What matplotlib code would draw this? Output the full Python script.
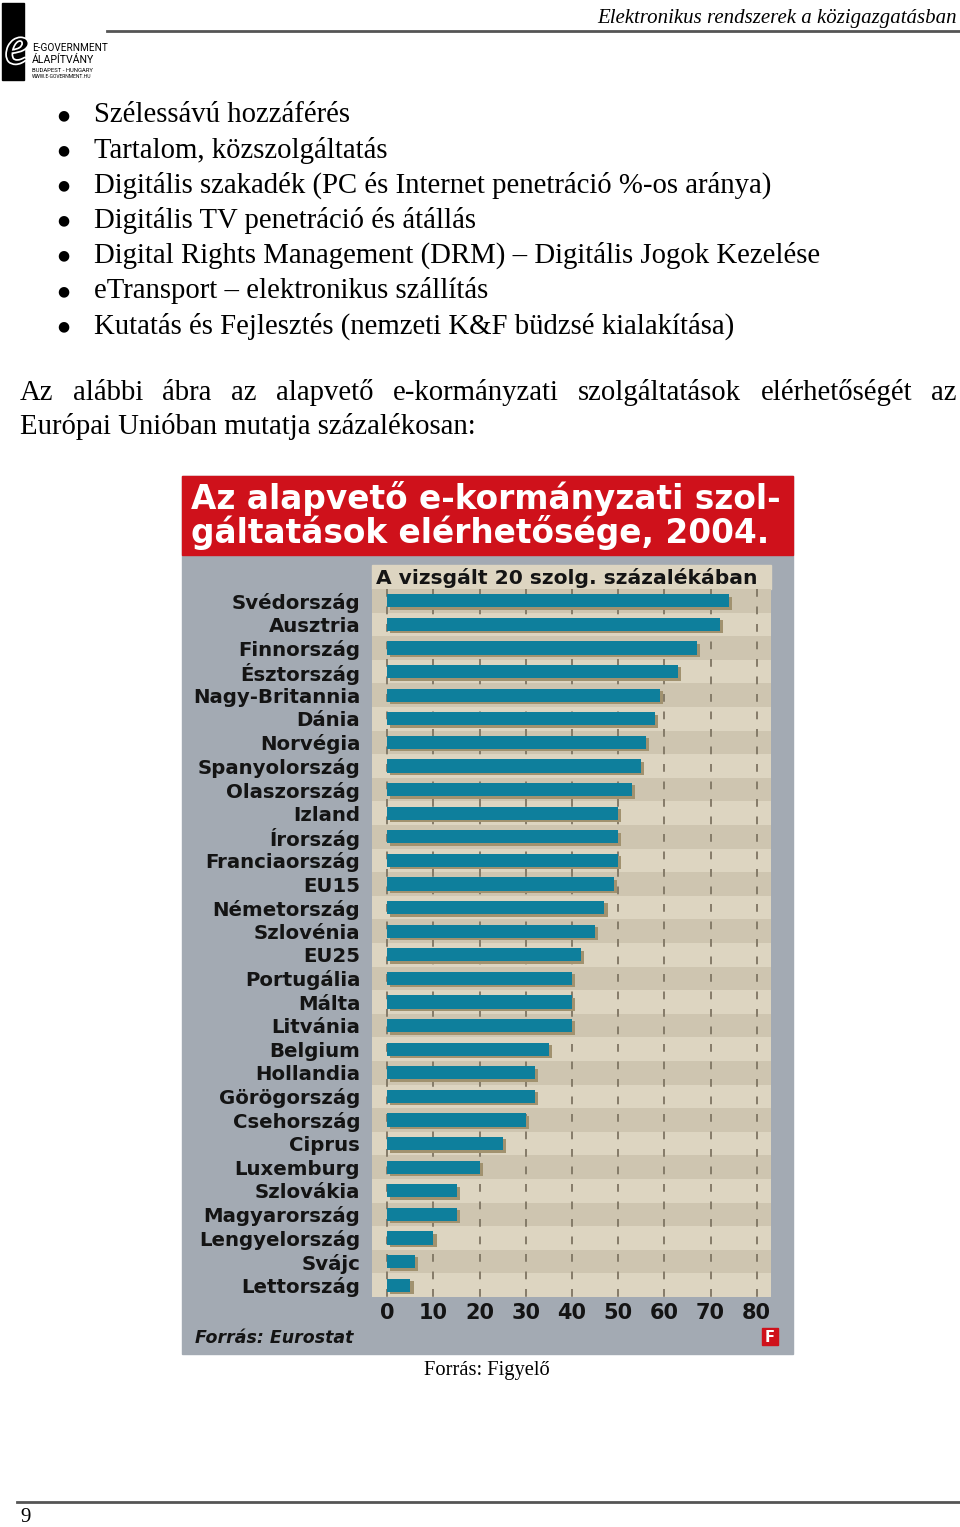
import matplotlib
matplotlib.use("Agg")
import matplotlib.pyplot as plt
import matplotlib.patheffects as pe
from matplotlib.patches import Rectangle

W, H = 960, 1527

# chart data (percent of the 20 examined services available online, 2004)
countries = ["Svédország", "Ausztria", "Finnország", "Észtország", "Nagy-Britannia",
             "Dánia", "Norvégia", "Spanyolország", "Olaszország", "Izland",
             "Írország", "Franciaország", "EU15", "Németország", "Szlovénia",
             "EU25", "Portugália", "Málta", "Litvánia", "Belgium",
             "Hollandia", "Görögország", "Csehország", "Ciprus", "Luxemburg",
             "Szlovákia", "Magyarország", "Lengyelország", "Svájc", "Lettország"]
values = [74, 72, 67, 63, 59, 58, 56, 55, 53, 50,
          50, 50, 49, 47, 45, 42, 40, 40, 40, 35,
          32, 32, 30, 25, 20, 15, 15, 10, 6, 5]
xticks = [0, 10, 20, 30, 40, 50, 60, 70, 80]

title_lines = ["Az alapvető e-kormányzati szol-", "gáltatások elérhetősége, 2004."]
subtitle = "A vizsgált 20 szolg. százalékában"

bullets = ["Szélessávú hozzáférés",
           "Tartalom, közszolgáltatás",
           "Digitális szakadék (PC és Internet penetráció %-os aránya)",
           "Digitális TV penetráció és átállás",
           "Digital Rights Management (DRM) \u2013 Digitális Jogok Kezelése",
           "eTransport \u2013 elektronikus szállítás",
           "Kutatás és Fejlesztés (nemzeti K&F büdzsé kialakítása)"]
para1 = "Az alábbi ábra az alapvető e-kormányzati szolgáltatások elérhetőségét az"
para2 = "Európai Unióban mutatja százalékosan:"

SERIF = ["Liberation Serif", "DejaVu Serif"]
SANS = ["Roboto", "DejaVu Sans"]
HEAVY = ["DejaVu Sans"]

RED = "#cf111b"
PANEL = "#a3aab3"
BEIGE_D = "#cec5b0"
BEIGE_L = "#ddd5c1"
BAR = "#0e7f9c"
SHADOW = "#a1926f"
INK = "#141414"


def px(x0, y0, x1, y1):
    return [x0 / W, 1 - y1 / H, (x1 - x0) / W, (y1 - y0) / H]


fig = plt.figure(figsize=(W / 100, H / 100), dpi=100)
fig.patch.set_facecolor("white")

# page overlay in pixel coordinates
pg = fig.add_axes([0, 0, 1, 1], zorder=0)
pg.set_xlim(0, W)
pg.set_ylim(H, 0)
pg.axis("off")

# header with logo
pg.plot([107, 960], [31, 31], color="#555555", lw=2)
pg.text(957, 18, "Elektronikus rendszerek a közigazgatásban", ha="right", va="center",
        fontsize=15, style="italic", family=SERIF)
pg.add_patch(Rectangle((2, 3), 22, 77, color="black"))
pg.text(17, 50, "e", fontsize=38, style="italic", family=SERIF, ha="center", va="center",
        color="black", path_effects=[pe.withStroke(linewidth=2.5, foreground="white")])
pg.text(32, 48, "E-GOVERNMENT", fontsize=7.2, family=SANS, va="center")
pg.text(32, 60, "ÁLAPÍTVÁNY", fontsize=7.6, family=SANS, va="center")
pg.text(32, 71, "BUDAPEST - HUNGARY", fontsize=4.2, family=SANS, va="center")
pg.text(32, 77, "WWW.E-GOVERNMENT.HU", fontsize=3.6, family=SANS, va="center")

# bullet list
for i, b in enumerate(bullets):
    y = 115 + i * 35.2
    pg.text(63, y, "\u25cf", fontsize=10, family=["DejaVu Sans"], ha="center", va="center")
    pg.text(94, y, b, fontsize=20.7, family=SERIF, va="center")

# justified first paragraph line
fig.canvas.draw()
rend = fig.canvas.get_renderer()
words = para1.split()
objs = [pg.text(0, 393, w, fontsize=20.7, family=SERIF, va="center") for w in words]
inv = pg.transData.inverted()
widths = []
for t in objs:
    bb = t.get_window_extent(rend)
    widths.append(inv.transform((bb.x1, 0))[0] - inv.transform((bb.x0, 0))[0])
gap = (957 - 20 - sum(widths)) / (len(words) - 1)
x = 20
for t, w in zip(objs, widths):
    t.set_x(x)
    x += w + gap
pg.text(20, 426, para2, fontsize=20.7, family=SERIF, va="center")

# chart panel
pg.add_patch(Rectangle((182, 476), 611, 878, color=PANEL))
pg.add_patch(Rectangle((182, 476), 611, 79, color=RED))
for i, line in enumerate(title_lines):
    pg.text(191, 498 + i * 34, line, color="white", fontsize=23.6, fontweight="bold",
            family=HEAVY, va="center")
pg.add_patch(Rectangle((372, 565), 399, 24, color=BEIGE_L))
pg.text(376, 578, subtitle, fontsize=14.6, fontweight="bold", family=HEAVY, va="center",
        color=INK)
pg.text(195, 1338, "Forrás: Eurostat", fontsize=12.5, fontweight="bold", style="italic",
        family=HEAVY, va="center", color=INK)
pg.add_patch(Rectangle((762, 1328), 16, 17, color=RED))
pg.text(770, 1337, "F", fontsize=10.5, fontweight="bold", family=HEAVY, color="white",
        ha="center", va="center")

# caption and footer
pg.text(487, 1370, "Forrás: Figyelő", fontsize=14.8, family=SERIF, ha="center", va="center")
pg.plot([17, 960], [1502, 1502], color="#555555", lw=2)
pg.text(20, 1517, "9", fontsize=15, family=SERIF, va="center")

# bar chart
ax = fig.add_axes(px(372, 589, 771, 1297), zorder=1)
n = len(countries)
ypos = list(range(n))
for i in ypos:
    ax.axhspan(i - 0.5, i + 0.5, color=BEIGE_D if i % 2 == 0 else BEIGE_L, lw=0, zorder=0)
ax.vlines(xticks, -0.5, n - 0.5, colors="#857b69", linestyles=(0, (4, 5)), lw=1.4, zorder=1)
ax.barh([y + 0.1 for y in ypos], values, left=0.7, height=0.56, color=SHADOW, zorder=2)
ax.barh(ypos, values, height=0.56, color=BAR, zorder=3)
ax.set_xlim(-3.3, 83.1)
ax.set_ylim(n - 0.5, -0.5)
ax.set_yticks(ypos)
ax.set_yticklabels(countries, fontsize=14.2, fontweight="bold", family=HEAVY, color=INK)
ax.set_xticks(xticks)
ax.set_xticklabels([str(v) for v in xticks], fontsize=15, fontweight="bold", family=HEAVY,
                   color=INK)
ax.tick_params(length=0)
ax.tick_params(axis="y", pad=8.5)
ax.tick_params(axis="x", pad=4)
for s in ax.spines.values():
    s.set_visible(False)

fig.savefig("out.png", dpi=100)
